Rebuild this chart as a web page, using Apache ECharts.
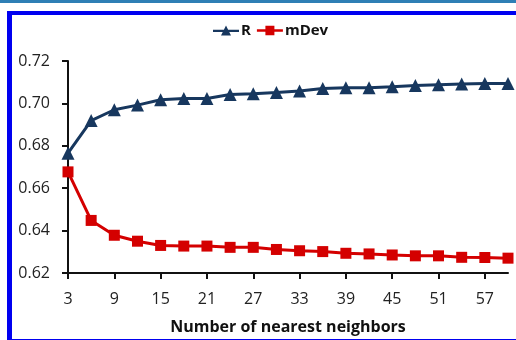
<!DOCTYPE html>
<html><head><meta charset="utf-8">
<script src="https://cdn.jsdelivr.net/npm/echarts@6/dist/echarts.min.js"></script>
<style>
html,body{margin:0;padding:0;background:#fff;width:516px;height:340px;overflow:hidden;position:relative;}
#strip{position:absolute;left:0;top:0;width:516px;height:3px;background:#2f7fb5;}
#frame{position:absolute;left:7px;top:11px;width:520px;height:330px;box-sizing:border-box;border-left:5px solid #0000f0;border-top:4px solid #0000f0;border-bottom:2px solid #0000f0;}
#chart{position:absolute;left:0;top:0;width:516px;height:340px;}
</style></head>
<body>
<div id="strip"></div>
<div id="frame"></div>
<div id="chart"></div>
<script>
const categories = ['3','6','9','12','15','18','21','24','27','30','33','36','39','42','45','48','51','54','57','60'];
const rValues = [0.6765,0.6919,0.6970,0.6992,0.7017,0.7023,0.7023,0.7042,0.7045,0.7051,0.7058,0.7070,0.7074,0.7074,0.7079,0.7085,0.7088,0.7091,0.7094,0.7094];
const mDevValues = [0.6677,0.6448,0.6378,0.6350,0.6330,0.6327,0.6327,0.6321,0.6321,0.6311,0.6305,0.6301,0.6293,0.6290,0.6285,0.6281,0.6281,0.6274,0.6273,0.6270];
const yTicks = {min:0.62, max:0.72, interval:0.02};
const xName = 'Number of nearest neighbors';

const chart = echarts.init(document.getElementById('chart'), null, {renderer:'canvas'});
const font = '"Open Sans", "Noto Sans", sans-serif';
const navy = '#17375e', red = '#d40000';
chart.setOption({
  animation:false,
  backgroundColor:'transparent',
  legend:{
    top:18, left:208, itemGap:6, itemWidth:26, itemHeight:11,
    textStyle:{fontFamily:font, fontSize:15, fontWeight:'bold', color:'#111', padding:[0,0,0,-3]},
    data:[
      {name:'R', icon:'path://M0,5.2 H26 V7.6 H0 Z M8,11 L13,1 L18,11 Z', itemStyle:{color:navy}},
      {name:'mDev', icon:'path://M0,5 H26 V7.6 H0 Z M8.5,1.5 H17.5 V11 H8.5 Z', itemStyle:{color:red}}
    ]
  },
  grid:{left:68, right:8, top:61, bottom:63, containLabel:false},
  xAxis:{
    type:'category', data:categories, boundaryGap:false,
    name:xName, nameLocation:'middle', nameGap:46,
    nameTextStyle:{fontFamily:font, fontSize:16, fontWeight:'bold', color:'#111'},
    axisLine:{lineStyle:{color:'#111', width:2}},
    axisTick:{show:true, interval:1, length:6, lineStyle:{color:'#111', width:2}},
    axisLabel:{interval:1, margin:18, fontFamily:font, fontSize:16, color:'#222'},
    splitLine:{show:false}
  },
  yAxis:{
    type:'value', min:yTicks.min, max:yTicks.max, interval:yTicks.interval,
    axisLine:{show:true, lineStyle:{color:'#111', width:2}},
    axisTick:{show:true, length:6, lineStyle:{color:'#111', width:2}},
    axisLabel:{margin:18, fontFamily:font, fontSize:16, color:'#222', formatter:v=>v.toFixed(2)},
    splitLine:{show:false}
  },
  series:[
    {name:'R', type:'line', data:rValues, symbol:'triangle', symbolSize:13,
     lineStyle:{color:navy, width:3}, itemStyle:{color:navy}},
    {name:'mDev', type:'line', data:mDevValues, symbol:'rect', symbolSize:11,
     lineStyle:{color:red, width:3}, itemStyle:{color:red}}
  ]
});
</script>
</body></html>
